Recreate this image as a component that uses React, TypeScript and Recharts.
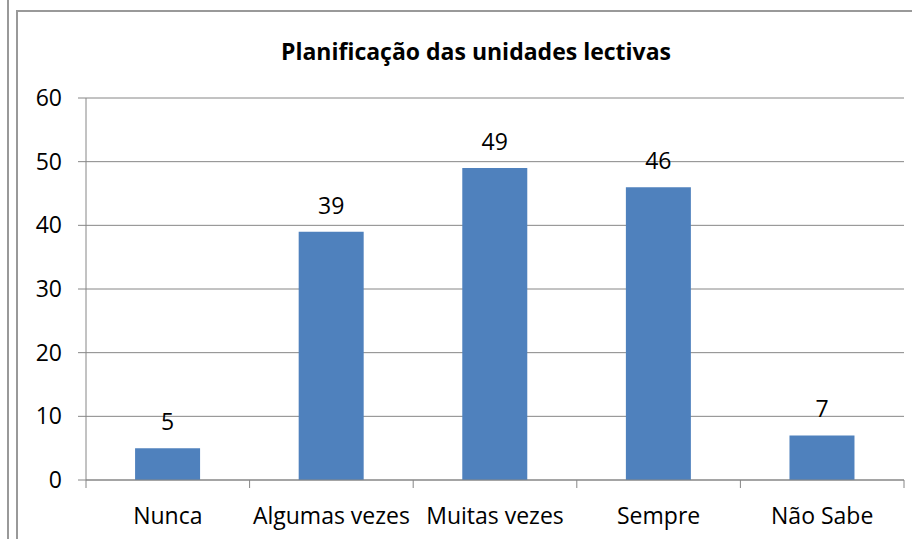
import React from "react";
import {
  BarChart,
  Bar,
  XAxis,
  YAxis,
  CartesianGrid,
  LabelList,
} from "recharts";

const categories = ["Nunca", "Algumas vezes", "Muitas vezes", "Sempre", "Não Sabe"];
const counts = [5, 39, 49, 46, 7];
const yTicks = [0, 10, 20, 30, 40, 50, 60];

const FONT = "'Open Sans', 'Liberation Sans', sans-serif";
const GREY = "#868686";

const chartData = categories.map((name, i) => ({ name, value: counts[i] }));

// category ticks sit on the band boundaries, like the spreadsheet chart
const XTick = (props: any) => {
  const { x, payload, index, visibleTicksCount } = props;
  const half = payload.offset || 0;
  const top = 480;
  return (
    <g>
      <line x1={x - half} y1={top} x2={x - half} y2={top + 8} stroke={GREY} />
      {index === visibleTicksCount - 1 && (
        <line x1={x + half} y1={top} x2={x + half} y2={top + 8} stroke={GREY} />
      )}
      <text
        x={x}
        y={524}
        textAnchor="middle"
        fontFamily={FONT}
        fontSize={23}
        fill="#000"
      >
        {payload.value}
      </text>
    </g>
  );
};

const App: React.FC = () => {
  return (
    <div
      style={{
        position: "absolute",
        left: 0,
        top: 0,
        width: 912,
        height: 539,
        background: "#fff",
        overflow: "hidden",
      }}
    >
      <div style={{ position: "absolute", left: 7, top: 0, width: 2, height: 539, background: "#999" }} />
      <div style={{ position: "absolute", left: 16, top: 10, width: 2, height: 529, background: "#999" }} />
      <div style={{ position: "absolute", left: 16, top: 10, width: 896, height: 2, background: "#999" }} />
      <div
        style={{
          position: "absolute",
          left: 0,
          top: 35,
          width: 952,
          textAlign: "center",
          fontFamily: FONT,
          fontWeight: "bold",
          fontSize: 23,
          lineHeight: "32px",
          color: "#000",
        }}
      >
        Planificação das unidades lectivas
      </div>
      <div style={{ position: "absolute", left: 0, top: 0 }}>
        <BarChart
          width={912}
          height={539}
          data={chartData}
          margin={{ top: 98, right: 8, bottom: 0, left: 0 }}
          barCategoryGap="30%"
        >
          <CartesianGrid vertical={false} stroke={GREY} strokeWidth={1} />
          <XAxis
            dataKey="name"
            axisLine={{ stroke: GREY }}
            tickLine={false}
            tick={<XTick />}
            interval={0}
            height={59}
          />
          <YAxis
            width={86}
            domain={[0, 60]}
            ticks={yTicks}
            interval={0}
            axisLine={{ stroke: GREY }}
            tickLine={{ stroke: GREY }}
            tickSize={8}
            tickMargin={16}
            tick={{ fontFamily: FONT, fontSize: 23, fill: "#000" }}
          />
          <Bar dataKey="value" fill="#4F81BD" isAnimationActive={false}>
            <LabelList
              dataKey="value"
              position="top"
              offset={18}
              style={{ fontFamily: FONT, fontSize: 23, fill: "#000" }}
            />
          </Bar>
        </BarChart>
      </div>
    </div>
  );
};

export default App;
